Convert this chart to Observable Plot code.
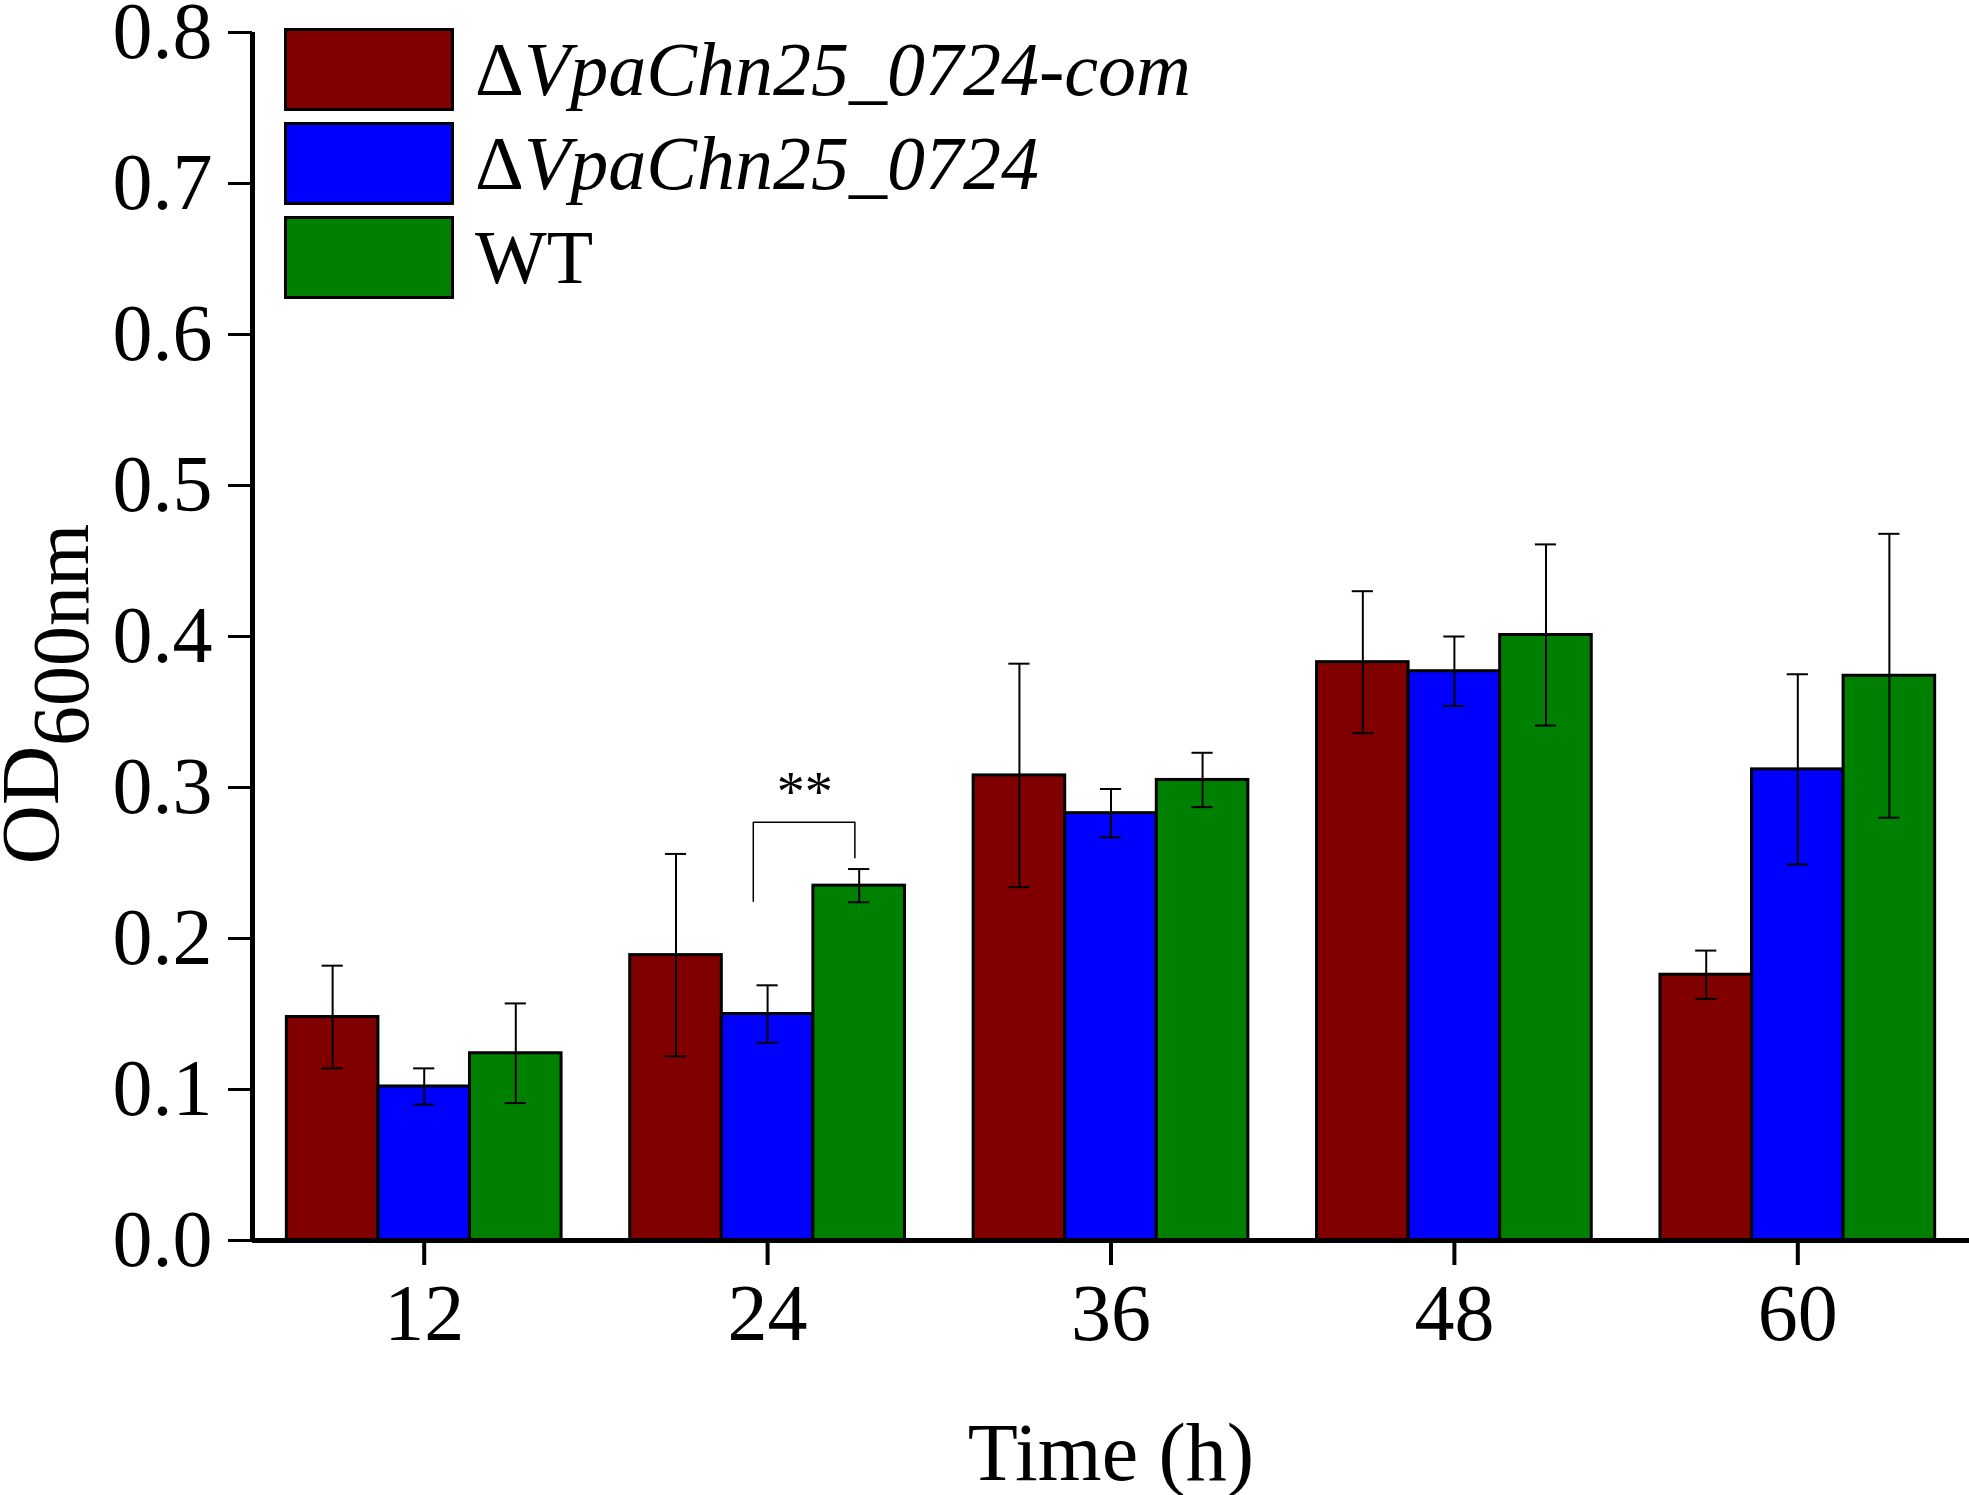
<!DOCTYPE html>
<html>
<head>
<meta charset="utf-8">
<script src="https://cdn.jsdelivr.net/npm/d3@7"></script>
<script src="https://cdn.jsdelivr.net/npm/@observablehq/plot@0.6"></script>
<style>
  html, body { margin: 0; padding: 0; background: #fff; }
  #wrap { position: relative; width: 1969px; height: 1495px; font-family: "Liberation Serif", "Times New Roman", serif; }
  #legend { position: absolute; left: 284px; top: 28px; }
  .row { display: flex; align-items: center; height: 83px; margin-bottom: 11px; }
  .sw { width: 164px; height: 77px; border: 3px solid #000; }
  .lab { margin-left: 21px; font-size: 76px; font-style: italic; white-space: nowrap; line-height: normal; color: #000; }
  .lab .up { font-style: normal; }
</style>
</head>
<body>
<div id="wrap"><div id="legend"></div></div>
<script>
// ---- data ----
const times = [12, 24, 36, 48, 60];
const seriesNames = ["ΔVpaChn25_0724-com", "ΔVpaChn25_0724", "WT"];
const comMean = [0.148, 0.189, 0.308, 0.383, 0.176];
const comErr  = [0.034, 0.067, 0.074, 0.047, 0.016];
const mutMean = [0.102, 0.150, 0.283, 0.377, 0.312];
const mutErr  = [0.012, 0.019, 0.016, 0.023, 0.063];
const wtMean  = [0.124, 0.235, 0.305, 0.401, 0.374];
const wtErr   = [0.033, 0.011, 0.018, 0.060, 0.094];
const yTicks  = [0, 0.1, 0.2, 0.3, 0.4, 0.5, 0.6, 0.7, 0.8];
const colors  = ["#800000", "#0000ff", "#008000"];
// significance annotation (24 h: mutant vs WT)
const bracketX = [23.5, 23.5, 27.05, 27.05];
const bracketY = [0.2247, 0.277, 0.277, 0.2534];
const starLabel = ["**"];
const starX = [25.3];
const starY = [0.296];

// ---- layout helpers ----
const means = [comMean, mutMean, wtMean];
const errs = [comErr, mutErr, wtErr];
const band = 12;                 // hours between groups
const barW = band * 0.8 / 3;     // each bar's width in hours
const capH = 0.37;               // half width of error cap in hours
const rows = times.flatMap((t, i) => seriesNames.map((s, k) => ({
  time: t, k, series: s, mean: means[k][i], err: errs[k][i],
  c: t + (k - 1) * barW
})));
const caps = rows.flatMap(d => [{c: d.c, y: d.mean - d.err}, {c: d.c, y: d.mean + d.err}]);
const bracket = bracketX.map((x, i) => ({x, y: bracketY[i]}));
const stars = starLabel.map((s, i) => ({s, x: starX[i], y: starY[i]}));

const font = '"Liberation Serif", "Times New Roman", serif';

const chart = Plot.plot({
  width: 1969,
  height: 1495,
  marginLeft: 252,
  marginRight: 0,
  marginTop: 32,
  marginBottom: 255,
  style: {fontFamily: font, fontSize: "80px", color: "#000", background: "#fff", overflow: "visible"},
  x: {type: "linear", domain: [6, 66]},
  y: {domain: [0, 0.8]},
  color: {domain: seriesNames, range: colors},
  marks: [
    Plot.rectY(rows, {x1: d => d.c - barW / 2, x2: d => d.c + barW / 2, y1: 0, y2: "mean",
      fill: "series", stroke: "#000", strokeWidth: 3}),
    Plot.ruleX(rows, {x: "c", y1: d => d.mean - d.err, y2: d => d.mean + d.err, stroke: "#000", strokeWidth: 2}),
    Plot.ruleY(caps, {y: "y", x1: d => d.c - capH, x2: d => d.c + capH, stroke: "#000", strokeWidth: 2}),
    Plot.ruleY([0], {stroke: "#000", strokeWidth: 5}),
    Plot.ruleX([6], {y1: 0, y2: 0.8, stroke: "#000", strokeWidth: 5}),
    Plot.axisY({ticks: yTicks, tickFormat: d3.format(".1f"), tickSize: 24, tickPadding: 16,
      strokeWidth: 3, fontSize: 80, label: null}),
    Plot.axisX({ticks: times, tickFormat: d => String(d), tickSize: 25, tickPadding: 18,
      strokeWidth: 4, fontSize: 80, label: null}),
    Plot.line(bracket, {x: "x", y: "y", stroke: "#000", strokeWidth: 1.5}),
    Plot.text(stars, {x: "x", y: "y", text: "s", fontSize: 56, textAnchor: "middle"}),
    Plot.text(["Time (h)"], {frameAnchor: "bottom", dy: 239, fontSize: 82, textAnchor: "middle"})
  ]
});

document.getElementById("wrap").prepend(chart);

// y-axis title with subscript
const svg = d3.select(chart);
const yt = svg.append("text")
  .attr("transform", "translate(58,694) rotate(-90)")
  .attr("text-anchor", "middle")
  .attr("fill", "#000")
  .style("font-family", font);
yt.append("tspan").attr("font-size", 82).text("OD");
yt.append("tspan").attr("font-size", 80).attr("dy", 30).text("600nm");

// legend
const legend = d3.select("#legend");
seriesNames.forEach((s, k) => {
  const r = legend.append("div").attr("class", "row");
  r.append("div").attr("class", "sw").style("background", colors[k]);
  const lab = r.append("div").attr("class", "lab");
  if (s.startsWith("Δ")) {
    lab.append("span").attr("class", "up").text("Δ");
    lab.append("span").text(s.slice(1));
  } else {
    lab.append("span").attr("class", "up").text(s);
  }
});
</script>
</body>
</html>
